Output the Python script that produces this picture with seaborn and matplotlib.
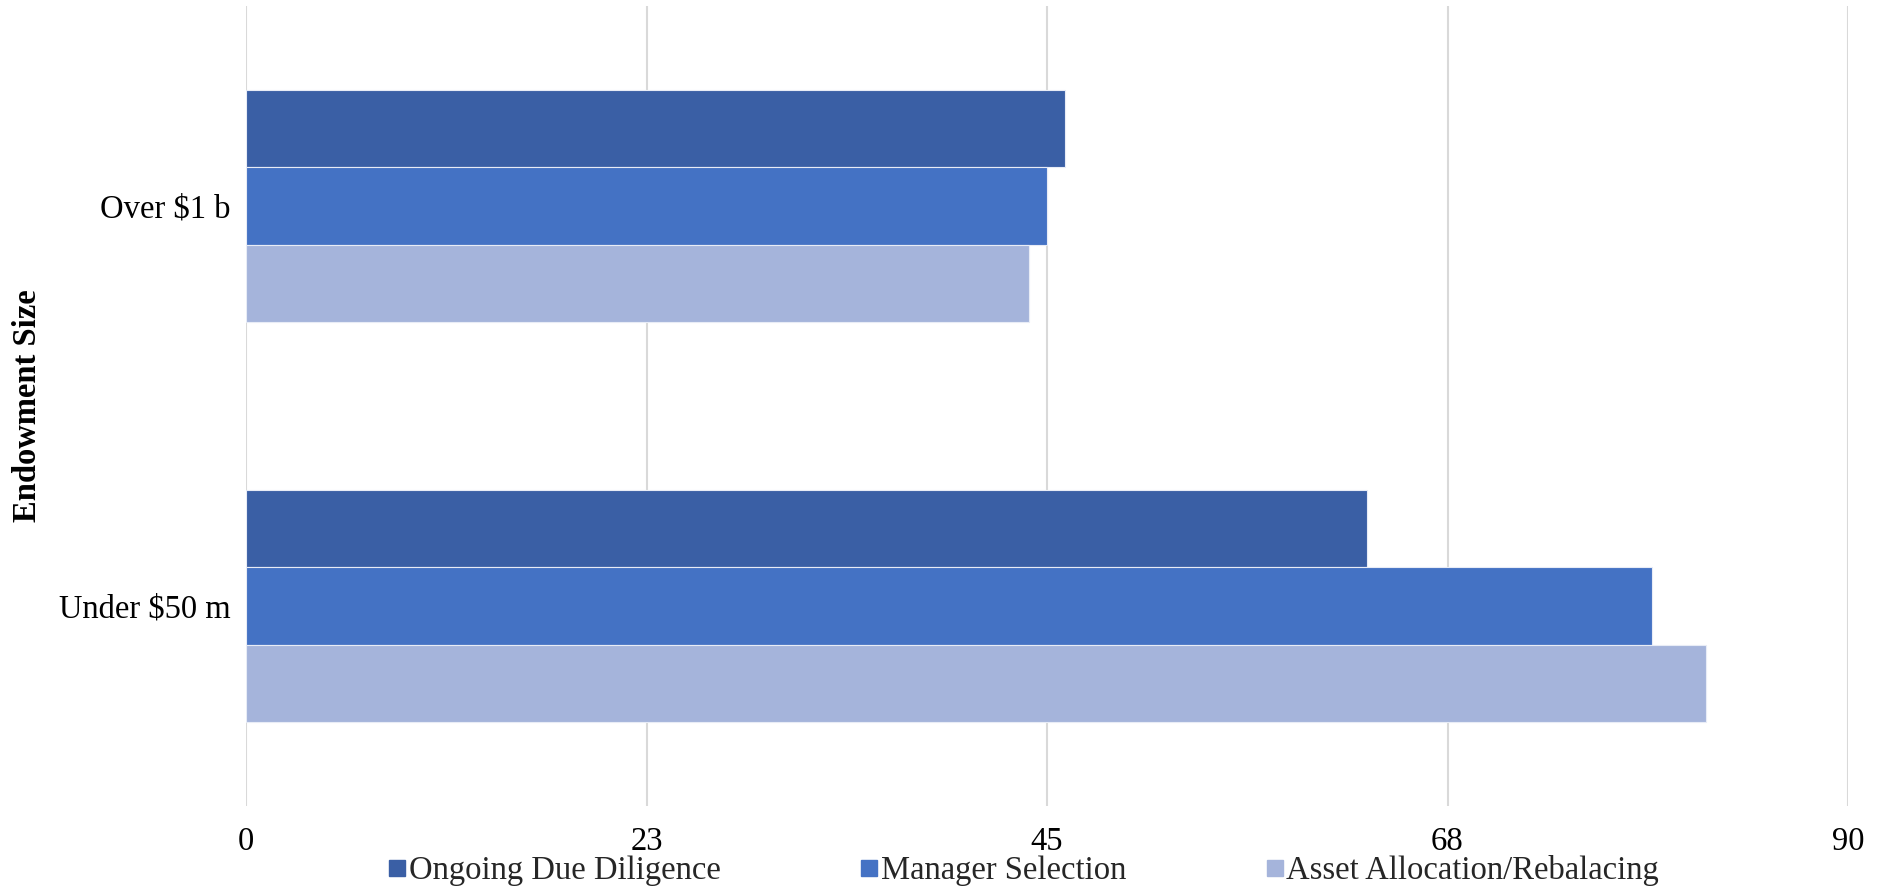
import matplotlib
matplotlib.use("Agg")
import matplotlib.pyplot as plt
from matplotlib.lines import Line2D
import seaborn as sns
import pandas as pd

categories = ["Over $1 b", "Under $50 m"]
series = ["Ongoing Due Diligence", "Manager Selection", "Asset Allocation/Rebalacing"]
ongoing = [46, 63]
manager = [45, 79]
asset = [44, 82]
tick_values = [0, 22.5, 45, 67.5, 90]
tick_labels = ["0", "23", "45", "68", "90"]
colors = ["#3A5FA5", "#4472C4", "#A5B4DB"]

rows = []
for name, vals in zip(series, [ongoing, manager, asset]):
    for cat, v in zip(categories, vals):
        rows.append({"Endowment Size": cat, "Series": name, "Value": v})
df = pd.DataFrame(rows)

sns.set_theme(style="white")
plt.rcParams["font.family"] = ["Liberation Serif", "DejaVu Serif"]

FS = 23.5

fig = plt.figure(figsize=(18.8, 8.86), dpi=100)
ax = fig.add_axes([246 / 1880, 1 - 806 / 886, (1848 - 246) / 1880, 800 / 886])

sns.barplot(data=df, y="Endowment Size", x="Value", hue="Series",
            hue_order=series, order=categories, palette=colors,
            orient="h", width=0.58, ax=ax, edgecolor="#E8ECF6", linewidth=0.8,
            saturation=1, legend=False)

ax.set_xlim(0, 90)
ax.set_ylim(1.5, -0.5)
ax.set_xticks(tick_values)
ax.set_xticklabels(tick_labels, fontsize=FS, color="black")
ax.tick_params(axis="y", labelsize=FS, length=0, pad=11, labelcolor="black")
ax.tick_params(axis="x", length=0, pad=15)
ax.set_xlabel("")
ax.set_ylabel("Endowment Size", fontsize=FS, fontweight="bold", color="black")
ax.yaxis.set_label_coords(-0.127, 0.5)
ax.grid(axis="x", color="#D9D9D9", linewidth=1.5)
ax.set_axisbelow(True)
for s in ax.spines.values():
    s.set_visible(False)

handles = [Line2D([0], [0], marker="s", linestyle="none", markersize=12,
                  markerfacecolor=c, markeredgecolor=c) for c in colors]
fig.legend(handles, series, loc="center", bbox_to_anchor=(1024 / 1880, 1 - 871 / 886),
           ncol=3, frameon=False, fontsize=FS, handlelength=0.5,
           handletextpad=0.1, columnspacing=4.3, borderpad=0)

fig.savefig("out.png", dpi=100)
